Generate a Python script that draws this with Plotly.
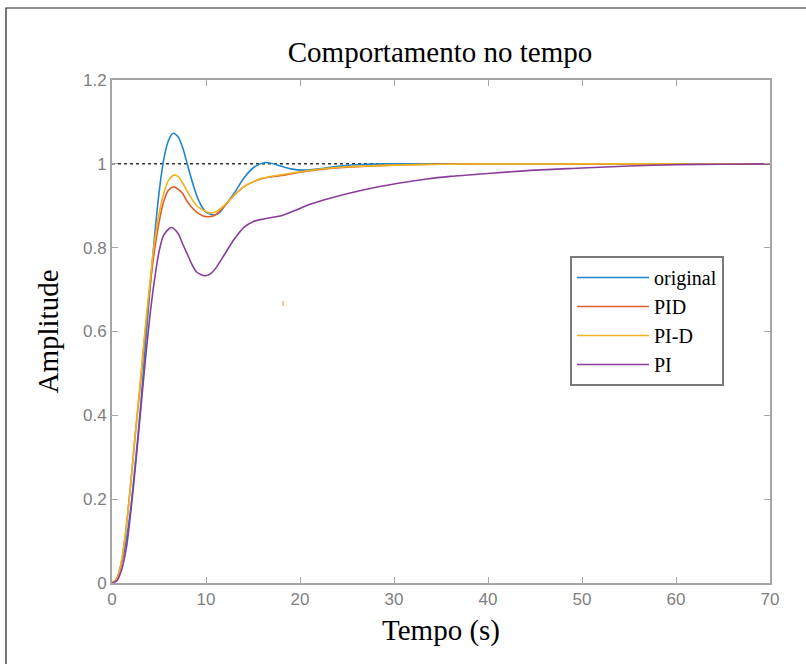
import plotly.graph_objects as go

# ---- data ----
t_orig = [0, 0.5, 1, 1.5, 2, 2.5, 3, 3.5, 4, 4.5, 5, 5.5, 6, 6.5, 7, 7.5, 8, 8.5, 9, 9.5, 10, 10.9,
          11.5, 12, 13, 14, 15, 16.3, 17.5, 19, 20.5, 22, 24, 27, 30, 40, 70]
y_orig = [0, 0.01, 0.045, 0.10, 0.18, 0.29, 0.41, 0.55, 0.69, 0.82, 0.93, 1.01, 1.055, 1.073, 1.065,
          1.04, 1.0, 0.96, 0.925, 0.9, 0.885, 0.878, 0.885, 0.9, 0.93, 0.965, 0.99, 1.003, 0.998,
          0.988, 0.985, 0.988, 0.994, 0.999, 1.0, 1.0, 1.0]

t_pid = [0, 0.5, 1, 1.5, 2, 2.5, 3, 3.5, 4, 4.5, 5, 5.5, 6, 6.6, 7, 7.5, 8, 9, 10, 11, 12, 13, 14,
         15, 16, 18, 20, 22, 25, 30, 35, 40, 70]
y_pid = [0, 0.01, 0.05, 0.13, 0.24, 0.36, 0.47, 0.59, 0.70, 0.79, 0.86, 0.91, 0.937, 0.945, 0.94,
         0.93, 0.91, 0.885, 0.874, 0.878, 0.9, 0.925, 0.945, 0.957, 0.965, 0.972, 0.98, 0.986,
         0.992, 0.997, 0.999, 1.0, 1.0]

t_pid2 = [0, 0.5, 1, 1.5, 2, 2.5, 3, 3.5, 4, 4.5, 5, 5.5, 6, 6.6, 7, 7.5, 8, 9, 10.4, 11, 12, 13,
          14, 15, 16, 18, 20, 22, 25, 30, 35, 40, 70]
y_pid2 = [0, 0.01, 0.05, 0.13, 0.24, 0.36, 0.48, 0.60, 0.71, 0.81, 0.88, 0.93, 0.96, 0.973, 0.97,
          0.955, 0.935, 0.9, 0.883, 0.885, 0.902, 0.925, 0.945, 0.957, 0.966, 0.974, 0.981, 0.987,
          0.993, 0.997, 0.999, 1.0, 1.0]

t_pi = [0, 0.5, 1, 1.5, 2, 2.5, 3, 3.5, 4, 4.5, 5, 5.5, 6.3, 7, 7.5, 8, 8.5, 9, 9.9, 10.5, 11, 12,
        13, 14, 15, 16, 17, 18, 19.6, 21, 23.2, 26.7, 30.3, 33.5, 36, 40, 45, 50, 55, 60, 65, 70]
y_pi = [0, 0.005, 0.03, 0.08, 0.17, 0.28, 0.40, 0.52, 0.63, 0.72, 0.79, 0.83, 0.848, 0.835, 0.81,
        0.785, 0.76, 0.742, 0.733, 0.738, 0.75, 0.785, 0.82, 0.848, 0.862, 0.868, 0.872, 0.876,
        0.89, 0.903, 0.918, 0.9375, 0.953, 0.964, 0.97, 0.977, 0.985, 0.99, 0.995, 0.998, 0.999, 1.0]

ref_t = [0, 70]
ref_y = [1, 1]

names = ["original", "PID", "PI-D", "PI"]
colors = ["#1f86cf", "#e0602c", "#efb424", "#8a3d9a"]

x_ticks = [0, 10, 20, 30, 40, 50, 60, 70]
y_ticks = [0, 0.2, 0.4, 0.6, 0.8, 1.0, 1.2]
y_tick_text = ["0", "0.2", "0.4", "0.6", "0.8", "1", "1.2"]

serif = "Liberation Serif, Times New Roman, serif"
tickfont = "Liberation Sans Narrow, Liberation Sans, Arial, sans-serif"

fig = go.Figure()
fig.add_trace(go.Scatter(x=ref_t, y=ref_y, mode="lines", showlegend=False,
                         line=dict(color="#333333", width=1.5, dash="dot"), hoverinfo="skip"))
for tx, ty, nm, c in zip([t_orig, t_pid, t_pid2, t_pi], [y_orig, y_pid, y_pid2, y_pi], names, colors):
    fig.add_trace(go.Scatter(x=tx, y=ty, mode="lines", name=nm,
                             line=dict(color=c, width=1.6, shape="spline", smoothing=0.8)))

axis_common = dict(showline=True, linecolor="#a6a6a6", linewidth=2, mirror="ticks",
                   ticks="inside", ticklen=6, tickcolor="#a6a6a6", tickwidth=1,
                   showgrid=False, zeroline=False,
                   tickfont=dict(family=tickfont, size=17, color="#7f7f7f"))

fig.update_layout(
    width=806, height=664,
    margin=dict(l=112, r=36, t=80, b=81),
    paper_bgcolor="white", plot_bgcolor="white",
    title=dict(text="Comportamento no tempo", x=440 / 806, xanchor="center",
               y=1 - 52 / 664, yanchor="middle",
               font=dict(family=serif, size=29, color="black")),
    xaxis=dict(range=[0, 70], tickvals=x_ticks,
               title=dict(text="Tempo (s)", font=dict(family=serif, size=29, color="black"), standoff=11),
               **axis_common),
    yaxis=dict(range=[0, 1.2], tickvals=y_ticks, ticktext=y_tick_text,
               title=dict(text="Amplitude", font=dict(family=serif, size=29, color="black"), standoff=16),
               **axis_common),
    legend=dict(x=(570 - 112) / 658, y=(583 - 256) / 503, xanchor="left", yanchor="top",
                bgcolor="white", bordercolor="#7a7a7a", borderwidth=2,
                font=dict(family=serif, size=20, color="black"),
                tracegroupgap=0, itemwidth=72),
    shapes=[dict(type="rect", xref="paper", yref="paper",
                 x0=(6 - 112) / 658, x1=1.2, y0=-0.3, y1=(583 - 8) / 503,
                 line=dict(color="#222222", width=1.2), layer="below"),
            dict(type="line", xref="paper", yref="paper",
                 x0=(283 - 112) / 658, x1=(283 - 112) / 658,
                 y0=(583 - 306) / 503, y1=(583 - 301) / 503,
                 line=dict(color="#f5b07a", width=1.5))],
)

fig.write_html("out.html")
